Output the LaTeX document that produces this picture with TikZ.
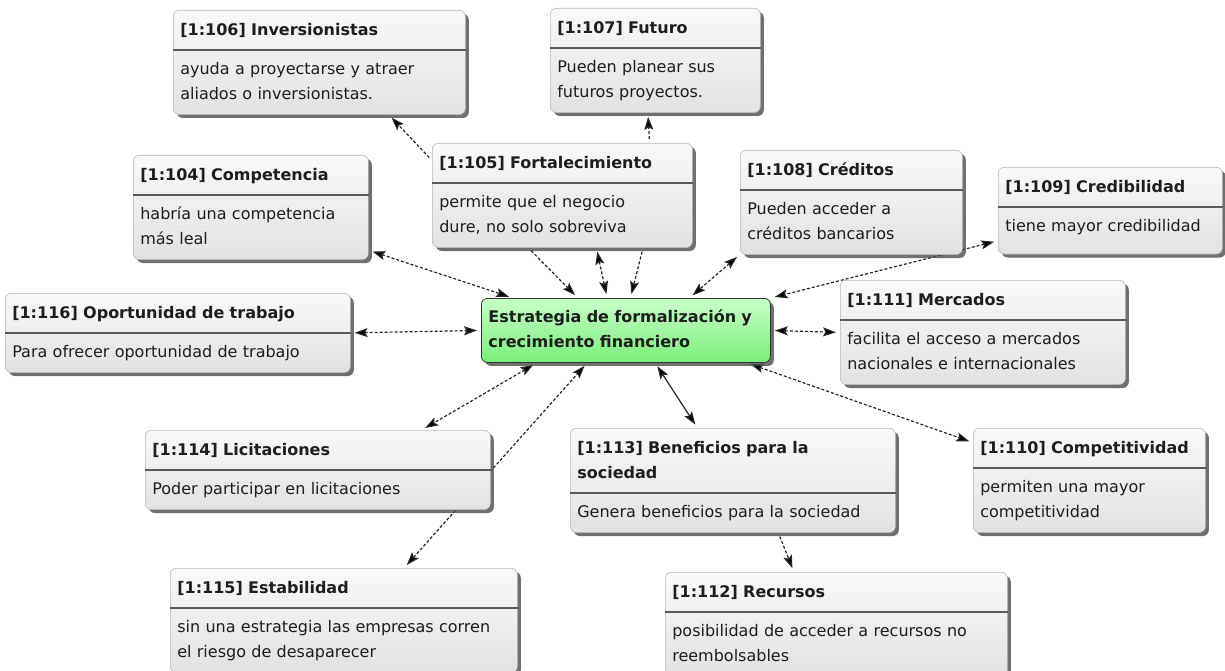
\documentclass[tikz,border=0pt]{standalone}
\usepackage{fontspec}
\setmainfont{DejaVu Sans}
\usetikzlibrary{arrows.meta,shapes.multipart,shadows,backgrounds}
\definecolor{paper}{RGB}{249, 249, 249}
\definecolor{fog}{RGB}{226, 226, 226}
\definecolor{rim}{RGB}{185, 185, 185}
\definecolor{ink}{RGB}{30, 30, 30}
\definecolor{mint}{RGB}{200, 255, 200}
\definecolor{leaf}{RGB}{122, 238, 122}

\begin{document}
\begin{tikzpicture}
  [
    x=1pt, y=-1pt,
    sheet/.style={anchor=north west, rounded corners=6pt, inner xsep=7pt, inner ysep=7pt,
      align=left, text=ink, font=\fontsize{16}{25}\selectfont,
      drop shadow={shadow xshift=3.5pt, shadow yshift=-3.5pt, fill=black!70, opacity=0.8},
      execute at begin node=\strut, execute at end node=\strut},
    memo/.style={sheet, rectangle split, rectangle split parts=2, rectangle split draw splits=false,
      draw=rim, line width=0.6pt, top color=paper, bottom color=fog},
    core/.style={sheet, draw=black!80, line width=0.8pt, top color=mint, bottom color=leaf,
      font=\bfseries\fontsize{16}{25}\selectfont},
    split/.style={line width=1.5pt, black!65},
    link/.style={line width=1.2pt, black!85, dash pattern=on 3pt off 2pt,
      shorten >=4pt, shorten <=4pt, >={Stealth[length=13pt, width=9pt, inset=2.5pt, fill=black]}},
    tie/.style={link, solid}
  ]
  \useasboundingbox (0,0) rectangle (1225,671);

  % top row
  \node[memo, text width=278pt] (inv) at (173,10)
    {\bfseries [1:106] Inversionistas\nodepart{two}ayuda a proyectarse y atraer\\aliados o inversionistas.};
  \node[memo, text width=196pt] (fut) at (550,8)
    {\bfseries [1:107] Futuro\nodepart{two}Pueden planear sus\\futuros proyectos.};
  \node[memo, text width=221pt] (cmp) at (133,155)
    {\bfseries [1:104] Competencia\nodepart{two}habría una competencia\\más leal};
  \node[memo, text width=246pt] (frt) at (432,143)
    {\bfseries [1:105] Fortalecimiento\nodepart{two}permite que el negocio\\dure, no solo sobreviva};
  \node[memo, text width=208pt] (cre) at (740,150)
    {\bfseries [1:108] Créditos\nodepart{two}Pueden acceder a\\créditos bancarios};
  \node[memo, text width=210pt] (crd) at (998,167)
    {\bfseries [1:109] Credibilidad\nodepart{two}tiene mayor credibilidad\rule[-15pt]{0pt}{15pt}};

  % middle row
  \node[memo, text width=331pt] (opo) at (5,293)
    {\bfseries [1:116] Oportunidad de trabajo\nodepart{two}Para ofrecer oportunidad de trabajo};
  \node[core, text width=275pt] (ctr) at (481,298)
    {Estrategia de formalización y\\crecimiento financiero};
  \node[memo, text width=271pt] (mer) at (840,280)
    {\bfseries [1:111] Mercados\nodepart{two}facilita el acceso a mercados\\nacionales e internacionales};

  % bottom rows
  \node[memo, text width=331pt] (lic) at (145,430)
    {\bfseries [1:114] Licitaciones\nodepart{two}Poder participar en licitaciones};
  \node[memo, text width=311pt] (ben) at (570,428)
    {\bfseries [1:113] Beneficios para la\\sociedad\nodepart{two}Genera beneficios para la sociedad};
  \node[memo, text width=218pt] (cpt) at (973,428)
    {\bfseries [1:110] Competitividad\nodepart{two}permiten una mayor\\competitividad};
  \node[memo, text width=333pt] (est) at (170,568)
    {\bfseries [1:115] Estabilidad\nodepart{two}sin una estrategia las empresas corren\\el riesgo de desaparecer};
  \node[memo, text width=328pt] (rec) at (665,572)
    {\bfseries [1:112] Recursos\nodepart{two}posibilidad de acceder a recursos no\\reembolsables};

  \foreach \m in {inv,fut,cmp,frt,cre,crd,opo,mer,lic,ben,cpt,est,rec}
    \draw[split] (\m.text split west) -- (\m.text split east);

  % links
  \begin{scope}[on background layer]
    \draw[link, ->] (frt.165) -- (inv.-37);
    \draw[link, ->] (frt.31) -- (fut.-98);
    \draw[link, <->] (cmp.-20) -- (ctr.164);
    \draw[link, ->] (frt.-123) -- (ctr.146);
    \draw[link, <->] (frt.-57) -- (ctr.120);
    \draw[link, ->] (frt.-33) -- (ctr.82);
    \draw[link, <->] (cre.-155) -- (ctr.27);
    \draw[link, <->] (crd.-165) -- (ctr.north east);
    \draw[link, <->] (opo.east) -- (ctr.west);
    \draw[link, <->] (ctr.east) -- (mer.west);
    \draw[link, <->] (ctr.-160) -- (lic.21);
    \draw[link, <->] (est.41) -- (ctr.-140);
    \draw[tie, <->] (ctr.-48) -- (ben.124);
    \draw[link, <->] (ctr.-15) -- (cpt.162);
    \draw[link, ->] (ben.-49) -- (rec.129);
  \end{scope}
\end{tikzpicture}
\end{document}
